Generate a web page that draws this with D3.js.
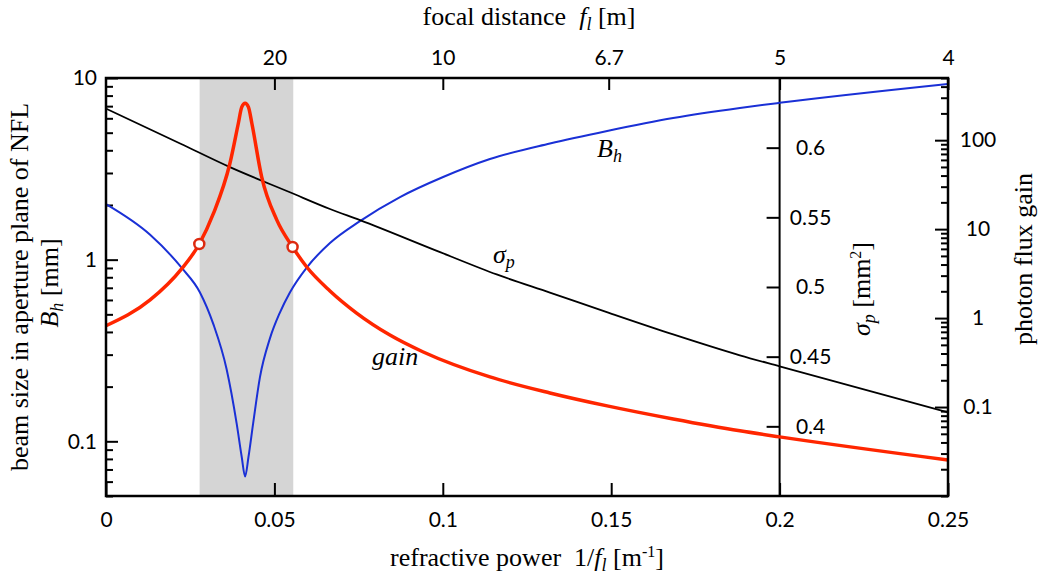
<!DOCTYPE html>
<html>
<head>
<meta charset="utf-8">
<script src="https://cdn.jsdelivr.net/npm/d3@7"></script>
<style>
  body { margin: 0; background: #fff; }
  .ticks text { font-family: Lato, "Open Sans", sans-serif; font-size: 21px; fill: #000; }
  .title { font-family: "Liberation Serif", "Times New Roman", serif; font-size: 26px; fill: #000; }
  .domain { display: none; }
</style>
</head>
<body>
<svg id="chart" width="1038" height="578"></svg>
<script>
// beam size B_h [mm] vs refractive power 1/f_l [1/m]
const bhPower = [0, 0.0131, 0.0225, 0.0279, 0.0319, 0.0358, 0.0388, 0.0403, 0.0413, 0.0423, 0.0437, 0.0457, 0.0487, 0.0516, 0.0546, 0.0596, 0.0665, 0.0754, 0.0873, 0.1001, 0.114, 0.1318, 0.1488, 0.1684, 0.1882, 0.2, 0.25];
const bhSize = [2.02, 1.37, 0.90, 0.66, 0.44, 0.25, 0.125, 0.082, 0.064, 0.082, 0.126, 0.225, 0.37, 0.51, 0.66, 0.905, 1.235, 1.63, 2.21, 2.85, 3.58, 4.36, 5.11, 6.02, 6.84, 7.30, 9.27];

// sigma_p [mm^2]
const sigmaPower = [0, 0.022, 0.0368, 0.0546, 0.0665, 0.0754, 0.0992, 0.116, 0.1318, 0.1487, 0.1684, 0.1882, 0.2, 0.25];
const sigmaValues = [0.628, 0.603, 0.586, 0.568, 0.556, 0.548, 0.525, 0.509, 0.496, 0.482, 0.466, 0.451, 0.443, 0.410];

// photon flux gain
const gainPower = [0, 0.0131, 0.0225, 0.0277, 0.0319, 0.0368, 0.0393, 0.0403, 0.0413, 0.0423, 0.0433, 0.0462, 0.0507, 0.0554, 0.0596, 0.0665, 0.0744, 0.0843, 0.0942, 0.114, 0.1318, 0.1488, 0.1684, 0.1882, 0.2, 0.25];
const gainValues = [0.82, 1.6, 3.6, 6.8, 15, 55, 155, 235, 260, 235, 155, 39, 12.7, 6.3, 3.75, 2.02, 1.14, 0.645, 0.416, 0.218, 0.144, 0.103, 0.0734, 0.054, 0.0462, 0.0254];

const markerPower = [0.0277, 0.0554];
const markerGain = [6.8, 6.3];
const bandPower = [0.0278, 0.0556];

const bottomTicks = [0, 0.05, 0.1, 0.15, 0.2, 0.25];
const focalTicks = [20, 10, 6.7, 5, 4];
const bhTicks = [10, 1, 0.1];
const sigmaTicks = [0.6, 0.55, 0.5, 0.45, 0.4];
const gainTicks = [100, 10, 1, 0.1];

// set the margin
const margin = {top: 78, right: 90, bottom: 82, left: 106};
const width = 1038 - margin.left - margin.right;
const height = 578 - margin.top - margin.bottom;

// scales
const x = d3.scaleLinear().domain([0, 0.25]).range([0, width]);
const yBh = d3.scaleLog().domain([0.05, 10]).range([height, 0]);
const ySigma = d3.scaleLinear().domain([0.35, 0.65]).range([height, 0]);
const yGain = d3.scaleLog().domain([0.01, 500]).range([height, 0]);

const svg = d3.select("#chart")
  .append("g")
  .attr("transform", "translate(" + margin.left + "," + margin.top + ")");

// grey band
svg.append("rect")
  .attr("x", x(bandPower[0]))
  .attr("y", 0)
  .attr("width", x(bandPower[1]) - x(bandPower[0]))
  .attr("height", height)
  .attr("fill", "#d5d5d5");

// minor ticks for log axes
function minors(lo, hi, majors) {
  const out = [];
  for (let e = -3; e <= 3; e++) {
    for (let k = 1; k <= 9; k++) {
      const v = +(k * Math.pow(10, e)).toPrecision(3);
      if (v >= lo && v <= hi && !majors.includes(v)) out.push(v);
    }
  }
  return out;
}

// bottom axis
svg.append("g")
  .attr("class", "ticks")
  .attr("transform", "translate(0," + height + ")")
  .call(d3.axisBottom(x).tickValues(bottomTicks).tickSizeInner(-13).tickSizeOuter(0).tickPadding(16).tickFormat(d => d));

// top axis (focal distance)
svg.append("g")
  .attr("class", "ticks")
  .call(d3.axisTop(x).tickValues(focalTicks.map(f => 1 / f)).tickSizeInner(-12).tickSizeOuter(0).tickPadding(13)
    .tickFormat((d, i) => focalTicks[i]));

// left axis B_h
svg.append("g")
  .attr("class", "ticks")
  .call(d3.axisLeft(yBh).tickValues(bhTicks).tickSizeInner(-12).tickSizeOuter(0).tickPadding(9).tickFormat(d => d));
svg.append("g")
  .attr("class", "ticks")
  .call(d3.axisLeft(yBh).tickValues(minors(0.05, 10, bhTicks)).tickSizeInner(-7).tickSizeOuter(0).tickFormat(""));

// sigma_p axis at 1/f = 0.2
const sigmaAxis = svg.append("g")
  .attr("class", "ticks")
  .attr("transform", "translate(" + x(0.2) + ",0)")
  .call(d3.axisRight(ySigma).tickValues(sigmaTicks).tickSizeInner(-13).tickSizeOuter(0).tickFormat(d => d));
sigmaAxis.selectAll("text").attr("x", 31).attr("text-anchor", "middle");

// right axis gain
const gainAxis = svg.append("g")
  .attr("class", "ticks")
  .attr("transform", "translate(" + width + ",0)")
  .call(d3.axisRight(yGain).tickValues(gainTicks).tickSizeInner(-13).tickSizeOuter(0).tickFormat(d => d));
gainAxis.selectAll("text").attr("x", 30).attr("text-anchor", "middle");
svg.append("g")
  .attr("class", "ticks")
  .attr("transform", "translate(" + width + ",0)")
  .call(d3.axisRight(yGain).tickValues(minors(0.01, 500, gainTicks)).tickSizeInner(-7).tickSizeOuter(0).tickFormat(""));

svg.selectAll(".tick line").attr("stroke", "#000").attr("stroke-width", 2);

// vertical line at 1/f = 0.2
svg.append("line")
  .attr("x1", x(0.2)).attr("x2", x(0.2))
  .attr("y1", 0).attr("y2", height)
  .attr("stroke", "#000").attr("stroke-width", 2);

// curves
const bhLine = d3.line().curve(d3.curveMonotoneX)
  .x((d, i) => x(bhPower[i])).y(d => yBh(d));
svg.append("path").datum(bhSize)
  .attr("d", bhLine).attr("fill", "none")
  .attr("stroke", "#1a30d6").attr("stroke-width", 2);

const sigmaLine = d3.line().curve(d3.curveMonotoneX)
  .x((d, i) => x(sigmaPower[i])).y(d => ySigma(d));
svg.append("path").datum(sigmaValues)
  .attr("d", sigmaLine).attr("fill", "none")
  .attr("stroke", "#000").attr("stroke-width", 1.8);

const gainLine = d3.line().curve(d3.curveMonotoneX)
  .x((d, i) => x(gainPower[i])).y(d => yGain(d));
svg.append("path").datum(gainValues)
  .attr("d", gainLine).attr("fill", "none")
  .attr("stroke", "#ff2600").attr("stroke-width", 3.5);

svg.selectAll(".marker")
  .data(markerGain)
  .enter()
  .append("circle")
    .attr("class", "marker")
    .attr("cx", (d, i) => x(markerPower[i]))
    .attr("cy", d => yGain(d))
    .attr("r", 5)
    .attr("fill", "#fff")
    .attr("stroke", "#dd2a10")
    .attr("stroke-width", 2.5);

// frame
svg.append("rect")
  .attr("width", width).attr("height", height)
  .attr("fill", "none").attr("stroke", "#000").attr("stroke-width", 2.5);

// curve labels
const bhLabel = svg.append("text").attr("class", "title").attr("x", 491).attr("y", 79);
bhLabel.append("tspan").attr("font-style", "italic").text("B");
bhLabel.append("tspan").attr("font-style", "italic").attr("font-size", 18).attr("dy", 5).text("h");

const spLabel = svg.append("text").attr("class", "title").attr("x", 387).attr("y", 185);
spLabel.append("tspan").attr("font-style", "italic").text("σ");
spLabel.append("tspan").attr("font-style", "italic").attr("font-size", 18).attr("dy", 5).text("p");

svg.append("text").attr("class", "title").attr("x", 266).attr("y", 287)
  .attr("font-style", "italic").text("gain");

// axis titles
const root = d3.select("#chart");

const topTitle = root.append("text").attr("class", "title")
  .attr("x", 529).attr("y", 25).attr("text-anchor", "middle");
topTitle.append("tspan").text("focal distance\u00a0\u00a0");
topTitle.append("tspan").attr("font-style", "italic").text("f");
topTitle.append("tspan").attr("font-style", "italic").attr("font-size", 18).attr("dy", 5).text("l");
topTitle.append("tspan").attr("dy", -5).text(" [m]");

const bottomTitle = root.append("text").attr("class", "title")
  .attr("x", 527).attr("y", 566).attr("text-anchor", "middle");
bottomTitle.append("tspan").text("refractive power\u00a0\u00a01/");
bottomTitle.append("tspan").attr("font-style", "italic").text("f");
bottomTitle.append("tspan").attr("font-style", "italic").attr("font-size", 18).attr("dy", 5).text("l");
bottomTitle.append("tspan").attr("dy", -5).text(" [m");
bottomTitle.append("tspan").attr("font-size", 16).attr("dy", -9).text("-1");
bottomTitle.append("tspan").attr("dy", 9).text("]");

root.append("text").attr("class", "title")
  .attr("transform", "translate(28,287) rotate(-90)")
  .attr("text-anchor", "middle")
  .text("beam size in aperture plane of NFL");

const bhTitle = root.append("text").attr("class", "title")
  .attr("transform", "translate(58,283) rotate(-90)")
  .attr("text-anchor", "middle");
bhTitle.append("tspan").attr("font-style", "italic").text("B");
bhTitle.append("tspan").attr("font-style", "italic").attr("font-size", 18).attr("dy", 5).text("h");
bhTitle.append("tspan").attr("dy", -5).text(" [mm]");

const spTitle = root.append("text").attr("class", "title")
  .attr("transform", "translate(870,289) rotate(-90)")
  .attr("text-anchor", "middle");
spTitle.append("tspan").attr("font-style", "italic").text("σ");
spTitle.append("tspan").attr("font-style", "italic").attr("font-size", 18).attr("dy", 5).text("p");
spTitle.append("tspan").attr("dy", -5).text(" [mm");
spTitle.append("tspan").attr("font-size", 16).attr("dy", -9).text("2");
spTitle.append("tspan").attr("dy", 9).text("]");

root.append("text").attr("class", "title")
  .attr("transform", "translate(1032,259) rotate(-90)")
  .attr("text-anchor", "middle")
  .text("photon flux gain");
</script>
</body>
</html>
